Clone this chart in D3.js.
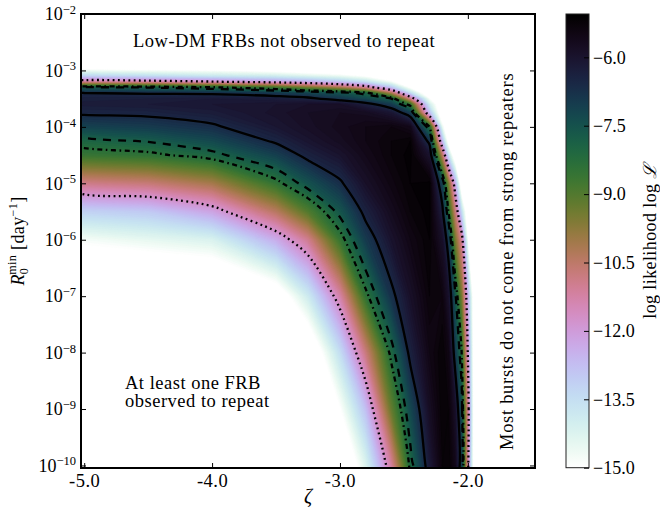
<!DOCTYPE html>
<html>
<head>
<meta charset="utf-8">
<script src="https://cdn.jsdelivr.net/npm/d3@7"></script>
<style>
  body { margin: 0; background: #fff; }
  svg text { font-family: "Liberation Serif", "DejaVu Serif", serif; fill: #000; }
</style>
</head>
<body>
<svg id="chart" width="660" height="514"></svg>
<script>
// likelihood grid: columns are zeta, rows are log10(R0min) (top to bottom)
var zetaCols = [-5.0, -4.5, -4.0, -3.5, -3.25, -3.0, -2.8, -2.6, -2.45, -2.3, -2.2, -2.15, -2.1, -2.05, -2.0, -1.95, -1.5];
var logRRows = [-2.0, -2.9, -3.0, -3.1, -3.2, -3.3, -3.4, -3.5, -3.6, -3.75, -4.0, -4.25, -4.5, -5.0, -5.5, -6.0, -7.0, -8.0, -9.0, -10.0];
var logLike = [
  [-16, -16, -16, -16, -16, -16, -16, -16, -16, -16, -16, -16, -16, -16, -16, -16, -16],
  [-16, -16, -16, -16, -16, -16, -16, -16, -16, -16, -16, -16, -16, -16, -16, -16, -16],
  [-14.7, -14.9, -15.0, -15.3, -15.6, -15.9, -16, -16, -16, -16, -16, -16, -16, -16, -16, -16, -16],
  [-13.3, -13.5, -13.8, -14.0, -14.3, -14.6, -15.1, -16, -16, -16, -16, -16, -16, -16, -16, -16, -16],
  [-11.2, -11.4, -11.75, -12.2, -12.5, -13.0, -13.6, -14.8, -16, -16, -16, -16, -16, -16, -16, -16, -16],
  [-7.7, -7.85, -8.2, -8.9, -9.6, -10.3, -11.2, -13.0, -15.2, -16, -16, -16, -16, -16, -16, -16, -16],
  [-6.6, -6.65, -6.7, -6.95, -7.2, -7.5, -8.0, -10.3, -13.5, -16, -16, -16, -16, -16, -16, -16, -16],
  [-6.35, -6.3, -6.2, -6.3, -6.45, -6.9, -7.3, -7.75, -11.0, -14.9, -16, -16, -16, -16, -16, -16, -16],
  [-6.25, -6.2, -6.1, -6.0, -5.9, -5.9, -6.35, -7.0, -8.6, -14.0, -16, -16, -16, -16, -16, -16, -16],
  [-6.5, -6.45, -6.25, -5.95, -5.8, -5.7, -5.75, -6.1, -7.0, -12.8, -16, -16, -16, -16, -16, -16, -16],
  [-7.15, -7.0, -6.7, -6.1, -5.85, -5.65, -5.5, -5.4, -5.6, -8.2, -14.6, -16, -16, -16, -16, -16, -16],
  [-8.0, -7.75, -7.3, -6.5, -6.05, -5.75, -5.5, -5.3, -5.2, -6.8, -12.8, -15.6, -16, -16, -16, -16, -16],
  [-8.6, -8.45, -8.0, -7.1, -6.4, -6.0, -5.6, -5.3, -5.15, -6.0, -10.5, -13.7, -16, -16, -16, -16, -16],
  [-10.9, -10.7, -10.1, -8.5, -7.5, -6.7, -5.9, -5.45, -5.2, -5.15, -7.2, -9.7, -12.4, -16, -16, -16, -16],
  [-13.2, -13.0, -12.2, -10.4, -9.0, -7.6, -6.4, -5.7, -5.3, -5.15, -6.4, -8.4, -10.7, -13.5, -16, -16, -16],
  [-14.8, -14.5, -14.2, -12.4, -11.0, -8.6, -7.0, -6.0, -5.5, -5.2, -5.9, -7.0, -9.5, -11.1, -15.05, -16, -16],
  [-17, -17, -16.8, -15.8, -13.9, -11.3, -8.5, -6.8, -5.9, -5.3, -5.4, -6.0, -7.6, -9.5, -12.6, -16, -16],
  [-17, -17, -17, -16.5, -16.2, -13.5, -10.8, -8.1, -6.4, -5.5, -5.2, -5.5, -6.9, -8.2, -11.85, -16, -16],
  [-17, -17, -17, -17, -16.5, -15.05, -12.8, -9.3, -7.3, -5.8, -5.2, -5.3, -5.9, -7.4, -11.2, -16, -16],
  [-17, -17, -17, -17, -17, -16.5, -14.3, -11.2, -8.1, -6.2, -5.3, -5.2, -5.6, -7.0, -11.5, -16, -16]
];
// contour levels: solid, dashed, dash-dot, dotted
var contourLevels = [-6.6, -7.8, -8.3, -11.8];
var xTicks = [-5, -4, -3, -2];
var yTickExps = [-10, -9, -8, -7, -6, -5, -4, -3, -2];
var cbarTicks = [-6, -7.5, -9, -10.5, -12, -13.5, -15];
var cbarRange = [-15, -5.05];
var topNote = "Low-DM FRBs not observed to repeat";
var leftNote = ["At least one FRB", "observed to repeat"];
var sideNote = "Most bursts do not come from strong repeaters";

var svg = d3.select("#chart");
var pL = 81, pT = 14, pR = 535, pB = 468;

var x = d3.scaleLinear().domain([-5.025, -1.475]).range([pL, pR]);
var y = d3.scaleLog().domain([Math.pow(10, -10.045), 1e-2]).range([pB, pT]);

var colour = function(v) {
  return d3.interpolateCubehelixDefault(1 - (v - cbarRange[0]) / (cbarRange[1] - cbarRange[0]));
};

var nx = zetaCols.length, ny = logRRows.length;
var values = [].concat.apply([], logLike);
var colIdx = d3.scaleLinear().domain(d3.range(nx)).range(zetaCols);
var rowIdx = d3.scaleLinear().domain(d3.range(ny)).range(logRRows);
function toPixel(p) {
  return [x(colIdx(p[0] - 0.5)), y(Math.pow(10, rowIdx(p[1] - 0.5)))];
}
var path = d3.geoPath(d3.geoTransform({
  point: function(px, py) {
    var q = toPixel([px, py]);
    this.stream.point(q[0], q[1]);
  }
}));

svg.append("rect").attr("width", 660).attr("height", 514).attr("fill", "#fff");

svg.append("clipPath").attr("id", "plotclip")
  .append("rect").attr("x", pL).attr("y", pT)
  .attr("width", pR - pL).attr("height", pB - pT);

var plot = svg.append("g").attr("clip-path", "url(#plotclip)");

// filled bands
var step = 0.1;
var thresholds = d3.range(cbarRange[0], cbarRange[1], step);
var bands = d3.contours().size([nx, ny]).thresholds(thresholds)(values);
plot.append("g")
  .selectAll("path")
  .data(bands)
  .enter()
  .append("path")
  .attr("d", path)
  .attr("fill", function(d) { return colour(d.value + step / 2); })
  .attr("stroke", function(d) { return colour(d.value + step / 2); })
  .attr("stroke-width", 0.3);

// contour lines
var dashes = [null, "8,7", "5,3.5,1.6,3.5", "1.8,3.4"];
var lineGen = d3.line().curve(d3.curveCatmullRomClosed.alpha(0.5));
contourLevels.forEach(function(level, i) {
  var c = d3.contours().size([nx, ny]).thresholds([level])(values)[0];
  c.coordinates.forEach(function(poly) {
    poly.forEach(function(ring) {
      var pts = ring.slice(0, -1).map(toPixel);
      plot.append("path")
        .attr("d", lineGen(pts))
        .attr("fill", "none")
        .attr("stroke", "#000")
        .attr("stroke-width", 2.3)
        .attr("stroke-dasharray", dashes[i]);
    });
  });
});

// axes
function styleAxis(g) {
  g.select(".domain").remove();
  g.selectAll(".tick line").attr("stroke", "#000").attr("stroke-width", 1);
  g.attr("font-family", "Liberation Serif, serif");
}

svg.append("g")
  .attr("transform", "translate(0," + pB + ")")
  .call(d3.axisBottom(x).tickValues(xTicks).tickSize(-5).tickPadding(6)
    .tickFormat(function(d) { return d.toFixed(1); }))
  .call(styleAxis)
  .attr("font-size", 18.5)
  .attr("letter-spacing", 0.5);

svg.append("g")
  .attr("transform", "translate(0," + pT + ")")
  .call(d3.axisTop(x).tickValues(xTicks).tickSize(-5).tickFormat(""))
  .call(styleAxis);

var yTickVals = yTickExps.map(function(e) { return Math.pow(10, e); });
var yAxis = svg.append("g")
  .attr("transform", "translate(" + pL + ",0)")
  .call(d3.axisLeft(y).tickValues(yTickVals).tickSize(-5).tickPadding(5).tickFormat(""))
  .call(styleAxis)
  .attr("font-size", 18);
yAxis.selectAll(".tick text").each(function(d, i) {
  var t = d3.select(this);
  t.append("tspan").text("10");
  t.append("tspan").attr("font-size", 12.5).attr("dy", "-0.5em")
    .text("\u2212" + Math.abs(yTickExps[i]));
});

svg.append("g")
  .attr("transform", "translate(" + pR + ",0)")
  .call(d3.axisRight(y).tickValues(yTickVals).tickSize(-5).tickFormat(""))
  .call(styleAxis);

svg.append("rect")
  .attr("x", pL).attr("y", pT)
  .attr("width", pR - pL).attr("height", pB - pT)
  .attr("fill", "none").attr("stroke", "#000").attr("stroke-width", 2);

// annotations
var noteSize = 18.5, noteSpacing = 0.5;
svg.append("text").attr("x", 133).attr("y", 47)
  .attr("font-size", noteSize).attr("letter-spacing", noteSpacing).text(topNote);
svg.append("text").attr("font-size", noteSize).attr("letter-spacing", noteSpacing)
  .selectAll("tspan").data(leftNote).enter().append("tspan")
  .attr("x", 125).attr("y", function(d, i) { return 389 + i * 18; })
  .text(function(d) { return d; });
svg.append("text")
  .attr("transform", "translate(513,450) rotate(-90)")
  .attr("font-size", noteSize).attr("letter-spacing", 0.7)
  .text(sideNote);

// axis labels
svg.append("text")
  .attr("x", (pL + pR) / 2).attr("y", 503)
  .attr("text-anchor", "middle").attr("font-size", 20).attr("font-style", "italic")
  .text("\u03b6");

var yl = svg.append("text")
  .attr("transform", "translate(24," + (pT + pB) / 2 + ") rotate(-90)")
  .attr("text-anchor", "middle").attr("font-size", 18).attr("letter-spacing", 0.4);
yl.append("tspan").attr("font-style", "italic").text("R");
yl.append("tspan").attr("font-size", 12).attr("dy", 4).text("0");
yl.append("tspan").attr("font-size", 12).attr("dx", -7).attr("dy", -12).text("min");
yl.append("tspan").attr("dy", 8).text(" [day");
yl.append("tspan").attr("font-size", 12).attr("dy", -7).text("\u22121");
yl.append("tspan").attr("dy", 7).text("]");

// colorbar
var cbX = 566, cbW = 23;
var cy = d3.scaleLinear().domain(cbarRange).range([467.7, 14]);
var grad = svg.append("defs").append("linearGradient")
  .attr("id", "cbgrad").attr("x1", 0).attr("y1", 1).attr("x2", 0).attr("y2", 0);
grad.selectAll("stop")
  .data(d3.range(0, 1.0001, 0.02))
  .enter()
  .append("stop")
  .attr("offset", function(d) { return d; })
  .attr("stop-color", function(d) { return colour(cbarRange[0] + d * (cbarRange[1] - cbarRange[0])); });
svg.append("rect")
  .attr("x", cbX).attr("y", cy(cbarRange[1]))
  .attr("width", cbW).attr("height", cy(cbarRange[0]) - cy(cbarRange[1]))
  .attr("fill", "url(#cbgrad)").attr("stroke", "#222").attr("stroke-width", 1);
svg.append("g")
  .attr("transform", "translate(" + (cbX + cbW) + ",0)")
  .call(d3.axisRight(cy).tickValues(cbarTicks).tickSize(-5).tickPadding(4).tickFormat(d3.format(".1f")))
  .call(styleAxis)
  .attr("font-size", 18);

var cl = svg.append("text")
  .attr("transform", "translate(656," + (pT + pB) / 2 + ") rotate(-90)")
  .attr("text-anchor", "middle").attr("font-size", 18).attr("letter-spacing", 0.4);
cl.append("tspan").text("log likelihood log ");
cl.append("tspan").attr("font-style", "italic").text("\u2112");
</script>
</body>
</html>
